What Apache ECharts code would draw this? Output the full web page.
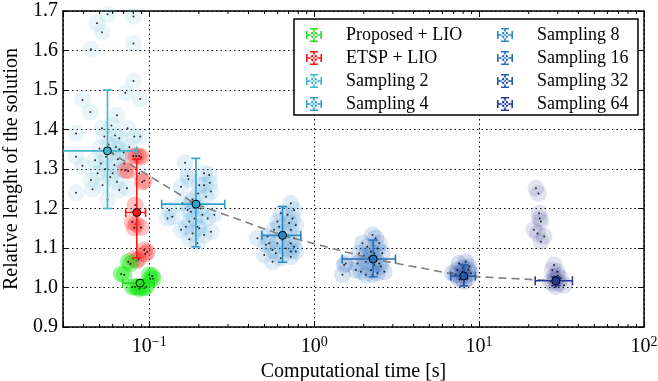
<!DOCTYPE html>
<html>
<head>
<meta charset="utf-8">
<script src="https://cdn.jsdelivr.net/npm/echarts@6/dist/echarts.min.js"></script>
<style>html,body{margin:0;padding:0;background:#fff}#chart{width:658px;height:381px}</style>
</head>
<body>
<div id="chart"></div>
<script>
var FONT = '"Liberation Serif", "DejaVu Serif", serif'

// axis ticks
var xTicks = [0.1, 1, 10, 100]
var xTickLabels = ['10{s|\u22121}', '10{s|0}', '10{s|1}', '10{s|2}']
var minorTicks = [0.04,0.05,0.06,0.07,0.08,0.09, 0.2,0.3,0.4,0.5,0.6,0.7,0.8,0.9, 2,3,4,5,6,7,8,9, 20,30,40,50,60,70,80,90]
var yTicks = [0.9, 1.0, 1.1, 1.2, 1.3, 1.4, 1.5, 1.6, 1.7]

// point clouds [time, relative length]
var proposedPts = [[0.0746,1.065],[0.0770,1.060],[0.0676,1.034],[0.0705,1.032],[0.1000,1.032],[0.1043,1.029],[0.1014,1.022],[0.1057,1.022],[0.0789,1.001],[0.0822,1.001],[0.0857,1.001],[0.0894,1.000],[0.0933,0.999],[0.0870,0.997],[0.0960,1.002]]
var etspPts = [[0.0800,1.333],[0.0834,1.333],[0.0870,1.333],[0.0894,1.330],[0.0716,1.297],[0.0746,1.295],[0.0933,1.270],[0.0907,1.267],[0.0822,1.209],[0.0789,1.166],[0.0834,1.161],[0.0891,1.152],[0.0811,1.151],[0.0933,1.095],[0.0972,1.090],[0.0946,1.085],[0.0800,1.072],[0.0834,1.068],[0.0860,1.071]]
var samp2Pts = [[0.0559,1.692],[0.0803,1.686],[0.0482,1.669],[0.0517,1.646],[0.0443,1.603],[0.0803,1.618],[0.0803,1.523],[0.0716,1.493],[0.0882,1.477],[0.0394,1.475],[0.0439,1.444],[0.0637,1.436],[0.0360,1.390],[0.0517,1.403],[0.0534,1.382],[0.0739,1.403],[0.0811,1.382],[0.0882,1.382],[0.0360,1.331],[0.0394,1.308],[0.0443,1.272],[0.0360,1.240],[0.0453,1.249],[0.0486,1.289],[0.0637,1.268],[0.0658,1.247],[0.0733,1.251],[0.0559,1.222],[0.0600,1.289],[0.0628,1.356],[0.0547,1.331],[0.0509,1.314],[0.0705,1.314],[0.0757,1.356],[0.0658,1.378],[0.0870,1.289],[0.0521,1.259],[0.0614,1.310],[0.0567,1.362],[0.0600,1.340],[0.0645,1.325],[0.0500,1.352],[0.0470,1.322],[0.0540,1.300],[0.0680,1.298],[0.0700,1.342],[0.0620,1.385],[0.0590,1.410],[0.0580,1.280],[0.0660,1.350]]
var samp4Pts = [[0.165,1.316],[0.171,1.282],[0.173,1.274],[0.215,1.289],[0.231,1.285],[0.233,1.265],[0.215,1.259],[0.201,1.259],[0.237,1.243],[0.156,1.255],[0.183,1.223],[0.179,1.217],[0.159,1.213],[0.221,1.230],[0.132,1.196],[0.138,1.179],[0.129,1.175],[0.171,1.196],[0.179,1.192],[0.210,1.184],[0.226,1.175],[0.248,1.184],[0.196,1.154],[0.201,1.150],[0.175,1.167],[0.156,1.146],[0.183,1.137],[0.237,1.141],[0.215,1.133],[0.196,1.112],[0.175,1.122],[0.167,1.154],[0.190,1.205],[0.205,1.200],[0.188,1.175],[0.198,1.238]]
var samp8Pts = [[0.722,1.213],[0.756,1.196],[0.628,1.188],[0.689,1.184],[0.739,1.175],[0.599,1.167],[0.613,1.154],[0.705,1.163],[0.774,1.158],[0.572,1.146],[0.722,1.146],[0.453,1.125],[0.521,1.129],[0.756,1.125],[0.534,1.112],[0.510,1.108],[0.599,1.112],[0.722,1.112],[0.756,1.103],[0.673,1.099],[0.559,1.095],[0.498,1.082],[0.586,1.087],[0.722,1.091],[0.628,1.074],[0.559,1.065],[0.722,1.078],[0.774,1.091],[0.660,1.140],[0.640,1.120]]
var samp16Pts = [[2.26,1.133],[2.36,1.125],[1.963,1.112],[2.10,1.103],[2.48,1.112],[2.42,1.099],[2.21,1.091],[2.31,1.087],[1.875,1.087],[2.59,1.087],[1.52,1.057],[1.556,1.061],[1.83,1.061],[2.056,1.065],[2.48,1.061],[2.54,1.053],[1.79,1.044],[1.92,1.040],[2.21,1.044],[2.66,1.040],[2.056,1.032],[2.26,1.032],[2.42,1.036],[1.485,1.032],[2.31,1.057],[2.15,1.075],[2.35,1.070],[2.00,1.080]]
var samp32Pts = [[7.56,1.061],[8.30,1.065],[8.69,1.053],[7.38,1.044],[7.92,1.040],[8.91,1.036],[7.74,1.027],[8.49,1.023],[6.89,1.036],[8.11,1.015],[7.22,1.032],[8.00,1.050],[8.30,1.030],[7.60,1.020],[8.60,1.045]]
var samp64Pts = [[22.1,1.251],[22.9,1.238],[23.1,1.188],[23.3,1.175],[23.7,1.167],[21.5,1.146],[22.6,1.137],[24.8,1.129],[23.7,1.116],[28.5,1.057],[27.8,1.044],[29.8,1.040],[28.5,1.027],[31.3,1.023],[27.2,1.015],[30.5,1.011],[32.7,1.006],[29.2,1.002],[29.0,1.020],[30.0,1.030],[28.0,1.010]]

// error bars [x, y, xLow, xHigh, yLow, yHigh]
var proposedBar = [0.088, 1.011, 0.069, 0.107, 1.000, 1.020]
var etspBar = [0.084, 1.190, 0.072, 0.095, 1.075, 1.325]
var samp2Bar = [0.0558, 1.346, 0.025, 0.084, 1.200, 1.500]
var samp4Bar = [0.192, 1.211, 0.119, 0.287, 1.103, 1.327]
var samp8Bar = [0.643, 1.132, 0.482, 0.830, 1.064, 1.205]
var samp16Bar = [2.28, 1.072, 1.48, 3.11, 1.027, 1.120]
var samp32Bar = [8.08, 1.029, 6.73, 9.50, 1.004, 1.057]
var samp64Bar = [29.2, 1.017, 21.9, 36.8, 1.005, 1.027]

var groups = [
  {name: 'Sampling 2', pts: samp2Pts, bar: samp2Bar, color: '#3fb5cf', halo: 'rgba(120,195,220,0.2)'},
  {name: 'Sampling 4', pts: samp4Pts, bar: samp4Bar, color: '#2fa0cb', halo: 'rgba(90,170,215,0.2)'},
  {name: 'Sampling 8', pts: samp8Pts, bar: samp8Bar, color: '#2b88c6', halo: 'rgba(60,140,205,0.2)'},
  {name: 'Sampling 16', pts: samp16Pts, bar: samp16Bar, color: '#2872b9', halo: 'rgba(40,105,185,0.22)'},
  {name: 'Sampling 32', pts: samp32Pts, bar: samp32Bar, color: '#2459a9', halo: 'rgba(30,75,165,0.22)'},
  {name: 'Sampling 64', pts: samp64Pts, bar: samp64Bar, color: '#263a95', halo: 'rgba(35,50,140,0.16)'},
  {name: 'ETSP + LIO', pts: etspPts, bar: etspBar, color: '#ff1515', halo: 'rgba(255,40,40,0.35)'},
  {name: 'Proposed + LIO', pts: proposedPts, bar: proposedBar, color: '#22dd22', halo: 'rgba(20,235,20,0.5)'}
]

var ICON = 'path://M0,6.2h16v1.6h-16z M0,3h1.6v8h-1.6z M14.4,3h1.6v8h-1.6z M7.2,0h1.6v14h-1.6z M4,0h8v1.6h-8z M4,12.4h8v1.6h-8z M4.6,7a3.4,3.4 0 1,0 6.8,0a3.4,3.4 0 1,0 -6.8,0z'

function colorOf(name){
  return groups.filter(function(g){ return g.name == name })[0].color
}

function errorBar(color){
  return function(params, api){
    var x = api.value(0), y = api.value(1)
    var c = api.coord([x, y])
    var l = api.coord([api.value(2), y])
    var r = api.coord([api.value(3), y])
    var b = api.coord([x, api.value(4)])
    var t = api.coord([x, api.value(5)])
    var st = {stroke: color, lineWidth: 1.6}
    var cap = 4.5
    return {type: 'group', children: [
      {type: 'line', shape: {x1: l[0], y1: c[1], x2: r[0], y2: c[1]}, style: st},
      {type: 'line', shape: {x1: c[0], y1: t[1], x2: c[0], y2: b[1]}, style: st},
      {type: 'line', shape: {x1: l[0], y1: c[1]-cap, x2: l[0], y2: c[1]+cap}, style: st},
      {type: 'line', shape: {x1: r[0], y1: c[1]-cap, x2: r[0], y2: c[1]+cap}, style: st},
      {type: 'line', shape: {x1: c[0]-cap, y1: t[1], x2: c[0]+cap, y2: t[1]}, style: st},
      {type: 'line', shape: {x1: c[0]-cap, y1: b[1], x2: c[0]+cap, y2: b[1]}, style: st},
      {type: 'circle', shape: {cx: c[0], cy: c[1], r: 4}, style: {fill: color, stroke: '#000', lineWidth: 1}}
    ]}
  }
}

var series = []
groups.forEach(function(g){
  series.push({type: 'scatter', name: g.name + ' runs', data: g.pts, symbolSize: 17,
    itemStyle: {color: g.halo}, silent: true, z: 1})
  series.push({type: 'scatter', name: g.name + ' dots', data: g.pts, symbolSize: 2,
    itemStyle: {color: '#000'}, silent: true, z: 1})
})
series.push({type: 'line', name: 'trend', z: 3, symbol: 'none', silent: true,
  data: groups.slice(0, 6).map(function(g){ return [g.bar[0], g.bar[1]] }),
  lineStyle: {color: '#808080', width: 1.6, type: [8, 5]}})
groups.forEach(function(g){
  series.push({type: 'custom', name: g.name, data: [g.bar], clip: true, z: 4,
    itemStyle: {color: g.color}, renderItem: errorBar(g.color)})
})
series.push({type: 'custom', name: 'minor', silent: true, z: 5,
  data: minorTicks.map(function(v){ return [v, yTicks[0]] }),
  renderItem: function(params, api){
    var v = api.value(0)
    var p0 = api.coord([v, yTicks[0]])
    var p1 = api.coord([v, yTicks[yTicks.length - 1]])
    var st = {stroke: '#000', lineWidth: 1}
    return {type: 'group', children: [
      {type: 'line', shape: {x1: p0[0], y1: p0[1], x2: p0[0], y2: p0[1]-3}, style: st},
      {type: 'line', shape: {x1: p1[0], y1: p1[1], x2: p1[0], y2: p1[1]+3}, style: st}
    ]}
  }})

function legendItems(names){
  return names.map(function(n){
    return {name: n, icon: ICON, itemStyle: {color: colorOf(n)}}
  })
}

var legendBase = {
  orient: 'vertical', padding: 0, itemWidth: 48, itemHeight: 14, itemGap: 5, z: 10,
  selectedMode: false,
  textStyle: {fontFamily: FONT, fontSize: 18, lineHeight: 18, color: '#000', padding: [0, 0, 0, 3]}
}

var axisLineStyle = {show: true, onZero: false, lineStyle: {color: '#000', width: 1.5}}
var gridLine = {show: true, lineStyle: {color: '#000', width: 1, type: [1.5, 3]}}

var chart = echarts.init(document.getElementById('chart'))
chart.setOption({
  animation: false,
  grid: {left: 63, right: 14, top: 11, bottom: 54, outerBoundsMode: 'none'},
  legend: [
    Object.assign({left: 306, top: 26, data: legendItems(['Proposed + LIO', 'ETSP + LIO', 'Sampling 2', 'Sampling 4'])}, legendBase),
    Object.assign({left: 497, top: 26, data: legendItems(['Sampling 8', 'Sampling 16', 'Sampling 32', 'Sampling 64'])}, legendBase)
  ],
  graphic: [{type: 'rect', z: 6, shape: {x: 294, y: 19, width: 344, height: 96},
    style: {fill: '#fff', stroke: '#000', lineWidth: 1.5}}],
  xAxis: [{
    type: 'log', logBase: 10, min: 0.03, max: 100, position: 'bottom',
    name: 'Computational time [s]', nameLocation: 'middle', nameGap: 24,
    nameTextStyle: {fontFamily: FONT, fontSize: 20, color: '#000'},
    axisLine: axisLineStyle,
    axisTick: {inside: true, length: 6, lineStyle: {color: '#000', width: 1}},
    axisLabel: {
      margin: 8, fontFamily: FONT, fontSize: 20, color: '#000',
      formatter: function(v){
        for (var i = 0; i < xTicks.length; i++) {
          if (Math.abs(Math.log10(xTicks[i]) - Math.log10(v)) < 1e-6) return xTickLabels[i]
        }
        return ''
      },
      rich: {s: {fontFamily: FONT, fontSize: 14, color: '#000', padding: [0, 0, 9, 0]}}
    },
    splitLine: gridLine
  }, {
    type: 'log', logBase: 10, min: 0.03, max: 100, position: 'top',
    axisLine: axisLineStyle,
    axisTick: {inside: true, length: 6, lineStyle: {color: '#000', width: 1}},
    axisLabel: {show: false}, splitLine: {show: false}
  }],
  yAxis: [{
    type: 'value', min: 0.9, max: 1.7, interval: 0.1,
    name: 'Relative lenght of the solution', nameLocation: 'middle', nameGap: 33, nameRotate: 90,
    nameTextStyle: {fontFamily: FONT, fontSize: 20, color: '#000'},
    axisLine: axisLineStyle,
    axisTick: {inside: true, length: 6, lineStyle: {color: '#000', width: 1}},
    axisLabel: {margin: 5, fontFamily: FONT, fontSize: 20, color: '#000',
      formatter: function(v){ return v.toFixed(1) }},
    splitLine: gridLine
  }, {
    type: 'value', min: 0.9, max: 1.7, interval: 0.1, position: 'right',
    axisLine: axisLineStyle,
    axisTick: {inside: true, length: 6, lineStyle: {color: '#000', width: 1}},
    axisLabel: {show: false}, splitLine: {show: false}
  }],
  series: series
})
</script>
</body>
</html>
